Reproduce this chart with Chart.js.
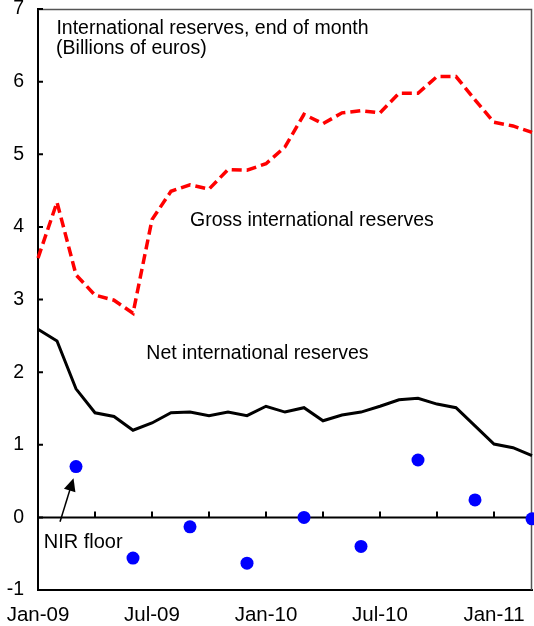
<!DOCTYPE html>
<html>
<head>
<meta charset="utf-8">
<script src="https://cdn.jsdelivr.net/npm/chart.js@4/dist/chart.umd.min.js"></script>
<style>
  html, body { margin: 0; padding: 0; background: #fff; }
  canvas { display: block; }
</style>
</head>
<body>
<canvas id="c" width="534" height="626"></canvas>
<script>
const months = ["Jan-09","Feb-09","Mar-09","Apr-09","May-09","Jun-09","Jul-09","Aug-09","Sep-09","Oct-09","Nov-09","Dec-09",
                "Jan-10","Feb-10","Mar-10","Apr-10","May-10","Jun-10","Jul-10","Aug-10","Sep-10","Oct-10","Nov-10","Dec-10",
                "Jan-11","Feb-11","Mar-11"];
const grossReserves = [3.57,4.34,3.34,3.06,2.99,2.81,4.10,4.49,4.58,4.52,4.79,4.78,
                       4.87,5.10,5.55,5.42,5.57,5.60,5.57,5.84,5.84,6.07,6.07,5.75,
                       5.44,5.39,5.30];
const netReserves = [2.59,2.43,1.77,1.44,1.39,1.20,1.30,1.44,1.45,1.40,1.45,1.40,
                     1.53,1.45,1.51,1.33,1.41,1.45,1.53,1.62,1.64,1.56,1.51,1.26,
                     1.01,0.96,0.85];
const nirFloor = [null,null,0.70,null,null,-0.56,null,null,-0.13,null,null,-0.63,
                  null,null,0.00,null,null,-0.40,null,null,0.79,null,null,0.24,
                  null,null,-0.02];
const yTicks = [-1,0,1,2,3,4,5,6,7];

const FONT = "'Liberation Sans', Arial, sans-serif";

const decor = {
  id: 'decor',
  beforeDatasetsDraw(chart) {
    const {ctx, chartArea: a, scales: {x, y}} = chart;
    ctx.save();
    ctx.strokeStyle = '#555';
    ctx.lineWidth = 1.5;
    ctx.beginPath();
    ctx.moveTo(a.left, a.top + 0.5);
    ctx.lineTo(a.right - 0.5, a.top + 0.5);
    ctx.lineTo(a.right - 0.5, a.bottom);
    ctx.stroke();
    const y0 = y.getPixelForValue(0);
    ctx.strokeStyle = '#000';
    ctx.lineWidth = 2;
    ctx.beginPath();
    ctx.moveTo(a.left, y0);
    ctx.lineTo(a.right, y0);
    ctx.stroke();
    ctx.beginPath();
    for (let i = 3; i < months.length; i += 3) {
      const px = Math.round(x.getPixelForValue(i));
      ctx.moveTo(px, y0);
      ctx.lineTo(px, y0 - 6);
    }
    for (const v of yTicks) {
      const py = y.getPixelForValue(v);
      ctx.moveTo(a.left, py);
      ctx.lineTo(a.left + 5, py);
    }
    ctx.stroke();
    ctx.restore();
  },
  afterDatasetsDraw(chart) {
    const {ctx, scales: {x, y}} = chart;
    ctx.save();
    ctx.fillStyle = '#000';
    ctx.textBaseline = 'middle';
    ctx.textAlign = 'left';
    const txt = (s, xi, yv, size) => {
      ctx.font = size + 'px ' + FONT;
      ctx.fillText(s, x.getPixelForValue(xi), y.getPixelForValue(yv));
    };
    txt('International reserves, end of month', 0.97, 6.73, 19.5);
    txt('(Billions of euros)', 0.95, 6.46, 19.5);
    txt('Gross international reserves', 8.0, 4.08, 19.5);
    txt('Net international reserves', 5.7, 2.25, 19.5);
    txt('NIR floor', 0.3, -0.34, 20);
    const x1 = x.getPixelForValue(1.16), y1 = y.getPixelForValue(-0.06);
    const x2 = x.getPixelForValue(1.87), y2 = y.getPixelForValue(0.54);
    const ang = Math.atan2(y2 - y1, x2 - x1);
    const hl = 13, hw = 6;
    ctx.strokeStyle = '#000';
    ctx.lineWidth = 1.5;
    ctx.beginPath();
    ctx.moveTo(x1, y1);
    ctx.lineTo(x2 - Math.cos(ang) * hl * 0.8, y2 - Math.sin(ang) * hl * 0.8);
    ctx.stroke();
    ctx.beginPath();
    ctx.moveTo(x2, y2);
    ctx.lineTo(x2 - Math.cos(ang) * hl - Math.sin(ang) * hw, y2 - Math.sin(ang) * hl + Math.cos(ang) * hw);
    ctx.lineTo(x2 - Math.cos(ang) * hl + Math.sin(ang) * hw, y2 - Math.sin(ang) * hl - Math.cos(ang) * hw);
    ctx.closePath();
    ctx.fill();
    ctx.restore();
  }
};

new Chart(document.getElementById('c'), {
  type: 'line',
  data: {
    labels: months,
    datasets: [
      {
        label: 'NIR floor',
        data: nirFloor,
        showLine: false,
        pointRadius: 6.5,
        pointBackgroundColor: '#0000FF',
        pointBorderColor: '#0000FF',
        pointBorderWidth: 0,
        clip: false,
        order: 0
      },
      {
        label: 'Gross international reserves',
        data: grossReserves,
        borderColor: '#FF0000',
        borderWidth: 3.5,
        borderDash: [10, 5],
        pointRadius: 0,
        tension: 0,
        fill: false,
        order: 1
      },
      {
        label: 'Net international reserves',
        data: netReserves,
        borderColor: '#000000',
        borderWidth: 3,
        pointRadius: 0,
        tension: 0,
        fill: false,
        order: 2
      }
    ]
  },
  options: {
    responsive: false,
    animation: false,
    devicePixelRatio: 1,
    layout: { autoPadding: false, padding: { top: 9, right: 2, left: 0, bottom: 0 } },
    plugins: { legend: { display: false }, tooltip: { enabled: false } },
    scales: {
      x: {
        type: 'category',
        offset: false,
        grid: { display: false, drawTicks: false },
        border: { display: true, color: '#000', width: 2 },
        ticks: {
          autoSkip: false,
          maxRotation: 0,
          minRotation: 0,
          padding: 13,
          color: '#000',
          font: { family: FONT, size: 20.5 },
          callback: (v, i) => (i % 6 === 0 ? months[i] : '')
        },
        afterFit: s => { s.height = 36; s.paddingLeft = 0; s.paddingRight = 0; }
      },
      y: {
        min: -1,
        max: 7,
        grid: { display: false, drawTicks: false },
        border: { display: true, color: '#000', width: 2 },
        afterBuildTicks: s => { s.ticks = yTicks.map(v => ({ value: v })); },
        ticks: {
          padding: 14,
          color: '#000',
          font: { family: FONT, size: 19.5 },
          callback: v => String(v)
        },
        afterFit: s => { s.width = 38; s.paddingTop = 0; s.paddingBottom = 0; }
      }
    }
  },
  plugins: [decor]
});
</script>
</body>
</html>
